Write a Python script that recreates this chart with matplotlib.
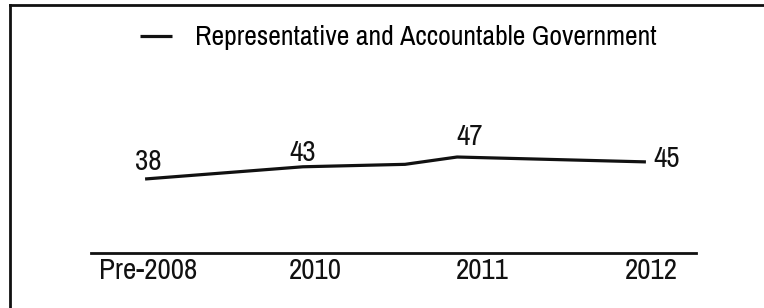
import matplotlib
matplotlib.use('Agg')
import matplotlib.pyplot as plt
from matplotlib.lines import Line2D

# data
periods = ['Pre-2008', '2010', '', '2011', '2012']
xpos = [0, 3.15, 5.19, 6.23, 10]
values = [38, 43, 44, 47, 45]
labelled = [True, True, False, True, True]
tick_pos = [0.06, 3.41, 6.73, 10.1]
tick_labels = ['Pre-2008', '2010', '2011', '2012']
series_name = 'Representative and Accountable Government'

plt.rcParams['font.family'] = ['Archivo Narrow', 'DejaVu Sans']
ink = '#111111'
fs = 21

fig = plt.figure(figsize=(7.64, 3.08), dpi=100)
ax = fig.add_axes([91/764, 1 - 253/308, 605/764, 223/308])

ax.plot(xpos, values, color=ink, lw=2.3, solid_capstyle='butt', label=series_name)

# value labels: (dx, dy) in pixels, alignment
offsets = [(3, 17, 'center'), (0, 14, 'center'), None, (13, 21, 'center'), (7, 3, 'left')]
for x, v, show, off in zip(xpos, values, labelled, offsets):
    if not show:
        continue
    ax.annotate(str(v), (x, v), xytext=off[:2], textcoords='offset pixels',
                ha=off[2], va='center', fontsize=fs, color=ink)

ax.set_xlim(-1.08, 11.0)
ax.set_ylim(7.7, 99)
ax.set_xticks(tick_pos)
ax.set_xticklabels(tick_labels, fontsize=fs, color=ink)
ax.tick_params(axis='x', length=0, pad=3)
ax.set_yticks([])
for s in ['top', 'right', 'left']:
    ax.spines[s].set_visible(False)
ax.spines['bottom'].set_linewidth(2)
ax.spines['bottom'].set_color(ink)

ax.legend(loc='center left', bbox_to_anchor=(140/764, 1 - 38/308),
          bbox_transform=fig.transFigure, frameon=False, fontsize=20,
          borderaxespad=0, borderpad=0, handlelength=1.15, handletextpad=0.83)

# frame around the figure (left and top edges only visible)
fig.add_artist(Line2D([10/764, 10/764], [0, 1 - 5/308], color=ink, lw=2,
                      transform=fig.transFigure))
fig.add_artist(Line2D([10/764, 1], [1 - 5/308, 1 - 5/308], color=ink, lw=2,
                      transform=fig.transFigure))

fig.savefig('out.png', dpi=100)
